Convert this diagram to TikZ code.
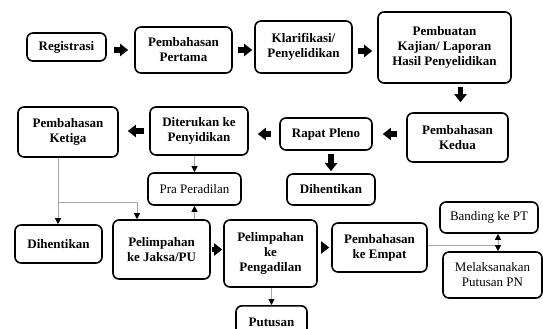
\documentclass[tikz,border=0pt]{standalone}
\usepackage{fontspec}
\setmainfont{Liberation Serif}
\usetikzlibrary{arrows.meta}

\tikzset{
  box/.style={draw, rounded corners=6pt, line width=1.6pt, align=center, inner sep=0pt,
    font=\fontsize{13}{15}\selectfont\bfseries},
  plainbox/.style={box, font=\fontsize{13}{15}\selectfont},
  blockarrow/.style={line width=5.5pt, -{Triangle[length=8pt,width=12pt]}},
  thinline/.style={draw=gray!70, line width=1pt},
  thinarrow/.style={thinline, -{Triangle[length=6pt,width=6pt,color=black]}}
}

\begin{document}
\begin{tikzpicture}[x=1pt,y=-1pt]
		\useasboundingbox (0,0) rectangle (543,329);
		\clip (0,0) rectangle (543,329);
		% first row
		\node[box, minimum width=79pt, minimum height=28pt] (reg) at (66.5,47) {Registrasi};
		\node[box, minimum width=97pt, minimum height=46pt] (pertama) at (183.5,50) {Pembahasan\\Pertama};
		\node[box, minimum width=97pt, minimum height=52pt] (klar) at (303.5,47) {Klarifikasi/\\Penyelidikan};
		\node[box, minimum width=133pt, minimum height=71pt] (pemb) at (444.5,47.5) {Pembuatan\\Kajian/ Laporan\\Hasil Penyelidikan};
		% second row
		\node[box, minimum width=101pt, minimum height=49pt] (kedua) at (457.5,137.5) {Pembahasan\\Kedua};
		\node[box, minimum width=92pt, minimum height=32pt] (rapat) at (326,134) {Rapat Pleno};
		\node[box, minimum width=98pt, minimum height=48pt] (diter) at (199,131) {Diterukan ke\\Penyidikan};
		\node[box, minimum width=100pt, minimum height=50pt] (ketiga) at (68,132) {Pembahasan\\Ketiga};
		\node[box, minimum width=88pt, minimum height=31pt] (dihent1) at (331,189.5) {Dihentikan};
		\node[plainbox, minimum width=93pt, minimum height=32pt] (pra) at (194.5,189) {Pra Peradilan};
		% third row
		\node[box, minimum width=87pt, minimum height=38pt] (dihent2) at (58.5,244) {Dihentikan};
		\node[box, minimum width=97pt, minimum height=59pt] (jaksa) at (161.5,249.5) {Pelimpahan\\ke Jaksa/PU};
		\node[box, minimum width=93pt, minimum height=67pt] (peng) at (270.5,253.5) {Pelimpahan\\ke\\Pengadilan};
		\node[box, minimum width=71pt, minimum height=34pt, anchor=north] (putusan) at (271.5,305) {Putusan};
		\node[box, minimum width=95pt, minimum height=49pt] (empat) at (379.5,247.5) {Pembahasan\\ke Empat};
		\node[plainbox, minimum width=98pt, minimum height=31pt] (banding) at (489,217.5) {Banding ke PT};
		\node[plainbox, minimum width=99pt, minimum height=46pt] (melak) at (492.5,275) {Melaksanakan\\Putusan PN};

		% block arrows
		\draw[blockarrow, shorten <=7pt, shorten >=6pt] (reg.east |- pertama.west) -- (pertama.west);
		\draw[blockarrow, shorten <=5pt, shorten >=2pt] (pertama.east) -- (pertama.east -| klar.west);
		\draw[blockarrow, shorten <=5pt, shorten >=5pt] ([yshift=-4pt]klar.east) -- ([yshift=-4pt]klar.east -| pemb.west);
		\draw[blockarrow, shorten <=3pt, shorten >=10pt] ([xshift=3pt]kedua.north |- pemb.south) -- ([xshift=3pt]kedua.north);
		\draw[blockarrow, shorten <=9pt, shorten >=10pt] (kedua.west |- rapat.east) -- (rapat.east);
		\draw[blockarrow, shorten <=8pt, shorten >=9pt] (rapat.west) -- (rapat.west -| diter.east);
		\draw[blockarrow, shorten <=5pt, shorten >=9pt] (diter.west) -- (diter.west -| ketiga.east);
		\draw[blockarrow, shorten <=3pt, shorten >=2pt] (dihent1.north |- rapat.south) -- (dihent1.north);
		\draw[blockarrow, shorten <=1pt, shorten >=1pt] (jaksa.east) -- (jaksa.east -| peng.west);
		\draw[blockarrow, shorten <=3pt, shorten >=2pt] (empat.west -| peng.east) -- (empat.west);

		% thin connectors
		\coordinate (split) at (58,202);
		\coordinate (split2) at (137,202);
		\draw[thinline] (ketiga.south -| split) -- (split);
		\draw[thinarrow] (split) -- (split |- dihent2.north);
		\draw[thinarrow] (split) -- (split2) -- (split2 |- jaksa.north);
		\draw[thinarrow] (pra.north |- diter.south) -- (pra.north);
		\draw[thinarrow] (pra.south |- jaksa.north) -- (pra.south);
		\draw[thinarrow] (putusan.north |- peng.south) -- (putusan.north);
		\coordinate (fork) at (498,245);
		\draw[thinline] (empat.east |- fork) -- (fork);
		\draw[thinarrow] (fork) -- (fork |- banding.south);
		\draw[thinarrow] (fork) -- (fork |- melak.north);
\end{tikzpicture}
\end{document}
